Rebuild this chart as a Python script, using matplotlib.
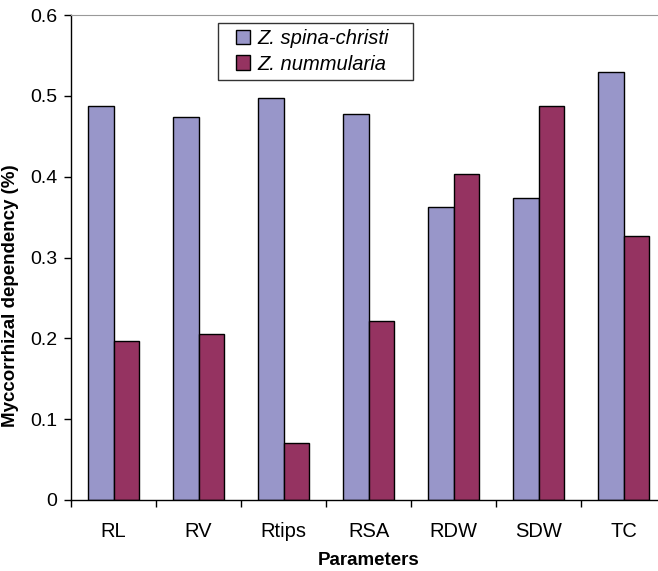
import numpy as np
import matplotlib
matplotlib.use('Agg')
import matplotlib.pyplot as plt
from matplotlib.patches import Rectangle

plt.rcParams['font.family'] = ['Liberation Sans', 'DejaVu Sans']

categories = ['RL', 'RV', 'Rtips', 'RSA', 'RDW', 'SDW', 'TC']
spina_christi = [0.487, 0.474, 0.497, 0.478, 0.362, 0.374, 0.530]
nummularia = [0.197, 0.205, 0.070, 0.222, 0.403, 0.488, 0.327]
yticks = [0, 0.1, 0.2, 0.3, 0.4, 0.5, 0.6]

W, H = 658, 571
fig = plt.figure(figsize=(W / 100, H / 100), dpi=100)
# axes runs a bit past the right edge of the picture, as in the reference
ax = fig.add_axes([71 / W, (H - 500) / H, 595 / W, 485 / H])

x = np.arange(len(categories)) + 0.5
bw = 0.3
ax.bar(x - bw / 2, spina_christi, bw, color='#9896c9', edgecolor='black', lw=1.0,
       label='Z. spina-christi')
ax.bar(x + bw / 2, nummularia, bw, color='#953361', edgecolor='black', lw=1.0,
       label='Z. nummularia')

ax.set_xlim(0, len(categories))
ax.set_ylim(0, 0.6)
ax.set_yticks(yticks)
ax.set_yticklabels(['0', '0.1', '0.2', '0.3', '0.4', '0.5', '0.6'])
ax.set_xticks(np.arange(len(categories) + 1))
ax.set_xticklabels([])
ax.set_xticks(x, minor=True)
ax.set_xticklabels(categories, minor=True)
ax.tick_params(axis='x', which='minor', length=0, pad=16, labelsize=14.5)
ax.tick_params(axis='x', which='major', length=5, direction='out', width=1)
ax.tick_params(axis='y', length=5, direction='out', width=1, labelsize=14, pad=5)

ax.spines['right'].set_visible(False)
ax.spines['top'].set_color('#999999')
ax.spines['left'].set_linewidth(1)
ax.spines['bottom'].set_linewidth(1)

ax.set_ylabel('Myccorrhizal dependency (%)', fontsize=13.5, fontweight='bold')
ax.yaxis.set_label_coords((19 - 71) / 595, (500 - 296) / 485)
ax.set_xlabel('Parameters', fontsize=13.5, fontweight='bold', labelpad=8)

# legend entries without frame; box drawn separately for the wider side padding
leg = ax.legend(loc='center left', bbox_to_anchor=((236 - 71) / 595, (500 - 51.5) / 485),
                prop={'style': 'italic', 'size': 14.5}, frameon=False,
                handlelength=0.7, handleheight=0.7, handletextpad=0.35,
                borderpad=0, labelspacing=0.3, borderaxespad=0)
for h in leg.legend_handles:
    h.set_linewidth(1)
fig.patches.append(Rectangle((218 / W, (H - 80) / H), 195 / W, 57 / H,
                             transform=fig.transFigure, fill=False,
                             edgecolor='#333333', lw=1, zorder=5))

fig.savefig('out.png', dpi=100)
